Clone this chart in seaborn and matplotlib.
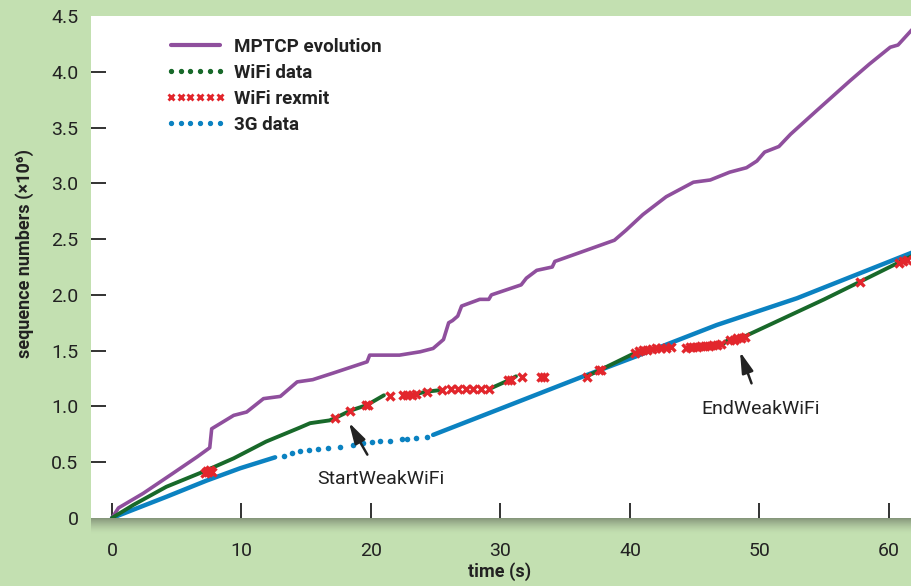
import numpy as np
import matplotlib
matplotlib.use("Agg")
import matplotlib.pyplot as plt
from matplotlib.lines import Line2D
import seaborn as sns

# MPTCP aggregate sequence evolution (x10^6)
mptcp_t = [0, 0.5, 2.4, 4.7, 6.6, 7.55, 7.7, 9.4, 10.4, 11.7, 13.0, 14.0, 14.3, 15.5,
           17.1, 19.7, 19.9, 22.2, 23.8, 24.8, 25.6, 26.0, 26.3, 26.7, 27.0, 28.4, 29.1,
           29.3, 31.6, 32.0, 32.8, 34.0, 34.2, 35.9, 38.8, 39.7, 41.0, 42.8, 44.9, 46.2,
           47.7, 49.0, 49.8, 50.4, 51.5, 52.4, 54.4, 57.0, 58.5, 60.1, 60.7, 61.8]
mptcp_seq = [0, 0.09, 0.22, 0.40, 0.55, 0.63, 0.80, 0.92, 0.95, 1.07, 1.09, 1.19, 1.22, 1.24,
             1.30, 1.40, 1.46, 1.46, 1.49, 1.52, 1.60, 1.75, 1.77, 1.81, 1.90, 1.96, 1.96,
             2.00, 2.09, 2.15, 2.22, 2.25, 2.30, 2.37, 2.49, 2.58, 2.72, 2.88, 3.01, 3.03,
             3.10, 3.14, 3.20, 3.28, 3.33, 3.44, 3.65, 3.92, 4.07, 4.22, 4.24, 4.38]

# WiFi data, split in segments (gaps where only retransmissions happen)
wifi_t = [0, 1.65, 4.2, 7.05, 9.4, 11.9, 14.5, 15.3, 16.8, 17.2, 18.4, 19.7, 21.0,
          23.4, 24.3, 25.5,
          29.2, 30.7, 31.2,
          36.6, 37.7, 40.5,
          47.2, 47.6,
          48.9, 51.6, 55.0, 57.8, 61.8]
wifi_seq = [0, 0.117, 0.28, 0.415, 0.535, 0.685, 0.81, 0.85, 0.875, 0.894, 0.962, 1.013, 1.10,
            1.11, 1.133, 1.148,
            1.16, 1.238, 1.27,
            1.267, 1.327, 1.486,
            1.56, 1.60,
            1.63, 1.776, 1.96, 2.12, 2.35]
wifi_seg = [0] * 13 + [1] * 3 + [2] * 3 + [3] * 3 + [4] * 2 + [5] * 5

# WiFi retransmissions
rexmit_t = [7.15, 7.3, 7.45, 7.6, 7.7, 17.2, 18.4, 19.6, 19.8, 21.5, 22.5, 22.75, 23.2, 23.45,
            24.3, 25.5, 26.2, 26.7, 27.3, 27.9, 28.5, 29.1, 30.6, 30.8, 31.7, 33.1, 33.4,
            36.65, 37.6, 37.8, 40.4, 40.7, 41.0, 41.3, 41.7, 42.0, 42.4, 42.8, 43.2,
            44.3, 44.6, 44.9, 45.2, 45.5, 45.8, 46.1, 46.4, 46.7, 47.0,
            47.7, 48.0, 48.3, 48.6, 48.9, 57.8, 60.8, 61.1, 61.4]
rexmit_seq = [0.40, 0.42, 0.41, 0.43, 0.41, 0.894, 0.962, 1.01, 1.015, 1.094, 1.10, 1.10, 1.105, 1.11,
              1.133, 1.148, 1.155, 1.156, 1.157, 1.157, 1.158, 1.16, 1.235, 1.24, 1.262, 1.268, 1.268,
              1.267, 1.325, 1.33, 1.48, 1.50, 1.505, 1.51, 1.515, 1.52, 1.52, 1.525, 1.53,
              1.525, 1.53, 1.535, 1.535, 1.54, 1.54, 1.545, 1.55, 1.555, 1.56,
              1.595, 1.60, 1.61, 1.615, 1.625, 2.12, 2.29, 2.30, 2.31]

# 3G data: dense parts drawn as a line, sparse part as single packets
g3_t = [0, 4.2, 7.3, 9.9, 12.6,
        24.8, 30.0, 36.4, 40.5, 46.7, 52.9, 61.8]
g3_seq = [0, 0.19, 0.335, 0.446, 0.544,
          0.745, 0.98, 1.27, 1.45, 1.73, 1.97, 2.38]
g3_seg = [0] * 5 + [1] * 7
g3_dot_t = [13.3, 13.9, 14.5, 15.2, 15.9, 16.7, 17.6, 18.6, 19.4, 20.05, 20.7, 21.5,
            22.4, 22.8, 23.5, 24.3]
g3_dot_seq = [0.56, 0.585, 0.604, 0.61, 0.616, 0.625, 0.634, 0.652, 0.67, 0.679, 0.688, 0.694,
              0.706, 0.711, 0.72, 0.729]

BG = '#c3e0b1'
PURPLE = '#8f4f9d'
GREEN = '#18692a'
RED = '#e2262c'
BLUE = '#0b82c1'
INK = '#222222'

sns.set_theme(style='white')
plt.rcParams['font.family'] = ['Roboto', 'DejaVu Sans']

fig = plt.figure(figsize=(9.12, 5.86), dpi=100, facecolor=BG)
ax = fig.add_axes([91 / 912, 1 - 518 / 586, 1 - 91 / 912, (518 - 16) / 586])
ax.set_facecolor('white')

# soft shadow under the plot area
sh = fig.add_axes([91 / 912, 1 - 534 / 586, 1 - 91 / 912, 16 / 586], zorder=-1)
grad = np.linspace(1, 0, 40)[:, None] * np.ones((1, 10))
shade = matplotlib.colors.LinearSegmentedColormap.from_list('sh', [BG, '#7f8e75'])
sh.imshow(grad ** 1.5, aspect='auto', cmap=shade, extent=[0, 1, 0, 1])
sh.axis('off')

sns.lineplot(x=mptcp_t, y=mptcp_seq, ax=ax, color=PURPLE, lw=2.6, zorder=3)
sns.lineplot(x=g3_t, y=g3_seq, units=g3_seg, estimator=None, ax=ax, color=BLUE, lw=3.2, zorder=2)
sns.scatterplot(x=g3_dot_t, y=g3_dot_seq, ax=ax, color=BLUE, s=16, linewidth=0, zorder=2)
sns.lineplot(x=wifi_t, y=wifi_seq, units=wifi_seg, estimator=None, ax=ax, color=GREEN, lw=2.8, zorder=4)
sns.scatterplot(x=rexmit_t, y=rexmit_seq, ax=ax, color=RED, marker='x', s=34, linewidth=2.4, zorder=5)

ax.set_xlim(-1.62, 61.78)
ax.set_ylim(0, 4.5)
ax.set_xticks([0, 10, 20, 30, 40, 50, 60])
ax.set_yticks([0, 0.5, 1, 1.5, 2, 2.5, 3, 3.5, 4, 4.5])
ax.set_yticklabels(['0', '0.5', '1.0', '1.5', '2.0', '2.5', '3.0', '3.5', '4.0', '4.5'])
for s in ax.spines.values():
    s.set_visible(False)
ax.tick_params(axis='both', direction='in', length=11, width=1.3, color=INK,
               labelsize=14, labelcolor=INK)
ax.tick_params(axis='y', pad=9, left=True)
ax.tick_params(axis='x', pad=17, bottom=True)
ax.yaxis.get_major_ticks()[0].tick1line.set_visible(False)
ax.yaxis.get_major_ticks()[-1].tick1line.set_visible(False)

ax.set_xlabel('time (s)', fontsize=13, fontweight='bold', color=INK)
ax.set_ylabel('sequence numbers (×10⁶)', fontsize=13, fontweight='bold', color=INK)
ax.xaxis.set_label_coords((500 - 91) / 821, -(562 - 518) / 502)
ax.yaxis.set_label_coords(-(91 - 34) / 821, (518 - 253) / 502)

arrow = dict(arrowstyle='-|>,head_length=0.9,head_width=0.25', color=INK, lw=1.8,
             shrinkA=10, shrinkB=0)
ax.annotate('StartWeakWiFi', xy=(18.3, 0.855), xytext=(20.8, 0.35), ha='center', va='center',
            fontsize=14, color=INK, arrowprops=arrow)
ax.annotate('EndWeakWiFi', xy=(48.5, 1.49), xytext=(50.1, 0.98), ha='center', va='center',
            fontsize=14, color=INK, arrowprops=arrow)

handles = [
    Line2D([], [], color=PURPLE, lw=3),
    Line2D([], [], color=GREEN, ls='none', marker='o', ms=2.8),
    Line2D([], [], color=RED, ls='none', marker='x', ms=4.5, mew=2),
    Line2D([], [], color=BLUE, ls='none', marker='o', ms=2.8),
]
labels = ['MPTCP evolution', 'WiFi data', 'WiFi rexmit', '3G data']
leg = ax.legend(handles, labels, loc='upper left', bbox_to_anchor=(0.07, 0.99), frameon=False,
                numpoints=6, handlelength=3.2, handletextpad=0.45, labelspacing=0.42,
                prop={'size': 13.5, 'weight': 'bold'})
for t in leg.get_texts():
    t.set_color(INK)

fig.savefig('out.png', dpi=100, facecolor=BG)
